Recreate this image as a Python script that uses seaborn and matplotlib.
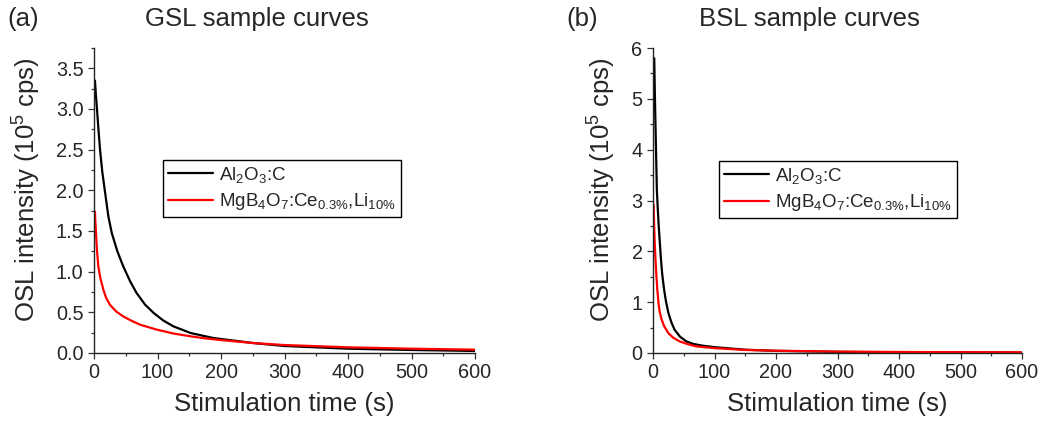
import numpy as np
import pandas as pd
import matplotlib
matplotlib.use("Agg")
import matplotlib.pyplot as plt
from matplotlib.ticker import MultipleLocator
import seaborn as sns

# ---- data ----
gsl_al_t = [1.5, 3, 4.7, 7, 9.5, 13, 17, 22.6, 28, 36.8, 46, 57, 67, 80.5, 94, 109, 125, 152, 188, 230, 250, 300, 400, 500, 600]
gsl_al_v = [3.35, 3.17, 3.0, 2.75, 2.5, 2.23, 2.0, 1.68, 1.475, 1.25, 1.066, 0.88, 0.738, 0.594, 0.492, 0.40, 0.328, 0.246, 0.184, 0.143, 0.123, 0.086, 0.053, 0.037, 0.025]
gsl_mg_t = [1.5, 2.2, 3.2, 4.5, 6.8, 10, 14.7, 19, 25, 35, 46, 58, 72.6, 99, 125, 152, 175, 204, 250, 300, 400, 500, 600]
gsl_mg_v = [1.74, 1.6, 1.475, 1.28, 1.066, 0.92, 0.78, 0.68, 0.594, 0.51, 0.45, 0.40, 0.348, 0.287, 0.24, 0.205, 0.18, 0.156, 0.123, 0.098, 0.07, 0.053, 0.041]

bsl_al_t = [2, 3, 4, 6.3, 7.5, 9, 12.6, 15, 18, 21, 25, 30, 35, 44, 54, 65, 80, 100, 150, 200, 300, 400, 500, 600]
bsl_al_v = [5.8, 5.1, 4.5, 3.2, 2.9, 2.56, 1.9, 1.55, 1.25, 1.02, 0.79, 0.6, 0.46, 0.32, 0.23, 0.18, 0.145, 0.115, 0.065, 0.042, 0.022, 0.014, 0.010, 0.008]
bsl_mg_t = [1, 1.8, 2.6, 3.8, 5.3, 7, 9, 11, 14, 18, 25, 33, 43, 55, 70, 100, 150, 200, 300, 400, 500, 600]
bsl_mg_v = [2.92, 2.55, 2.23, 1.9, 1.57, 1.25, 0.98, 0.8, 0.66, 0.53, 0.39, 0.3, 0.23, 0.18, 0.13, 0.095, 0.06, 0.045, 0.028, 0.02, 0.016, 0.013]

labels = [r'Al$_2$O$_3$:C', r'MgB$_4$O$_7$:Ce$_{0.3\%}$,Li$_{10\%}$']
titles = ['GSL sample curves', 'BSL sample curves']
panel_tags = ['(a)', '(b)']
xlabel = 'Stimulation time (s)'
ylabel = r'OSL intensity (10$^5$ cps)'

sns.set_style('ticks')
plt.rcParams['font.family'] = ['Liberation Sans', 'DejaVu Sans']
plt.rcParams['mathtext.fontset'] = 'custom'
plt.rcParams['mathtext.rm'] = 'Liberation Sans'
plt.rcParams['mathtext.it'] = 'Liberation Sans'
plt.rcParams['mathtext.default'] = 'regular'

fig = plt.figure(figsize=(10.56, 4.21), dpi=100)
H = 421.0
W = 1056.0
ax_a = fig.add_axes([94 / W, 1 - 353 / H, 381 / W, 305 / H])
ax_b = fig.add_axes([653 / W, 1 - 353 / H, 369 / W, 305 / H])

panels = [
    (ax_a, gsl_al_t, gsl_al_v, gsl_mg_t, gsl_mg_v, 3.75, 0.5, 0.25, 0.181, 0.633),
    (ax_b, bsl_al_t, bsl_al_v, bsl_mg_t, bsl_mg_v, 6.0, 1.0, 0.5, 0.179, 0.630),
]

for ax, at, av, mt, mv, ymax, ymaj, ymin, lx, ly in panels:
    sns.lineplot(x=at, y=av, ax=ax, color='black', linewidth=1.6,
                 estimator=None, sort=False, label=labels[0])
    sns.lineplot(x=mt, y=mv, ax=ax, color='#ff0000', linewidth=1.6,
                 estimator=None, sort=False, label=labels[1])
    ax.set_xlim(0, 600)
    ax.set_ylim(0, ymax)
    ax.xaxis.set_major_locator(MultipleLocator(100))
    ax.xaxis.set_minor_locator(MultipleLocator(50))
    ax.yaxis.set_major_locator(MultipleLocator(ymaj))
    ax.yaxis.set_minor_locator(MultipleLocator(ymin))
    if ymaj < 1:
        ax.yaxis.set_major_formatter(matplotlib.ticker.FormatStrFormatter('%.1f'))
    ax.tick_params(which='major', direction='out', length=4.5, width=0.9,
                   labelsize=14.3, color='#333333', pad=3)
    ax.tick_params(which='minor', direction='out', length=2.5, width=0.9, color='#333333')
    for s in ['top', 'right']:
        ax.spines[s].set_visible(False)
    for s in ['left', 'bottom']:
        ax.spines[s].set_linewidth(1.0)
        ax.spines[s].set_color('#222222')
    ax.set_xlabel('')
    ax.set_ylabel('')
    leg = ax.legend(loc='upper left', bbox_to_anchor=(lx, ly), borderaxespad=0,
                    fontsize=13.5, frameon=True, fancybox=False, framealpha=1,
                    edgecolor='black', handlelength=2.4, handletextpad=0.35,
                    borderpad=0.25, labelspacing=0.35)
    leg.get_frame().set_linewidth(1.0)

# axis labels and titles
fig.text(284 / W, 1 - 404 / H, xlabel, ha='center', va='center', fontsize=18.5)
fig.text(837 / W, 1 - 404 / H, xlabel, ha='center', va='center', fontsize=18.5)
fig.text(27 / W, 1 - 190 / H, ylabel, ha='center', va='center', rotation=90, fontsize=18.5)
fig.text(602 / W, 1 - 190 / H, ylabel, ha='center', va='center', rotation=90, fontsize=18.5)
fig.text(257 / W, 1 - 19 / H, titles[0], ha='center', va='center', fontsize=18.5)
fig.text(809 / W, 1 - 19 / H, titles[1], ha='center', va='center', fontsize=18.5)
fig.text(23 / W, 1 - 19 / H, panel_tags[0], ha='center', va='center', fontsize=18.5)
fig.text(582 / W, 1 - 19 / H, panel_tags[1], ha='center', va='center', fontsize=18.5)

fig.savefig('out.png', dpi=100)
